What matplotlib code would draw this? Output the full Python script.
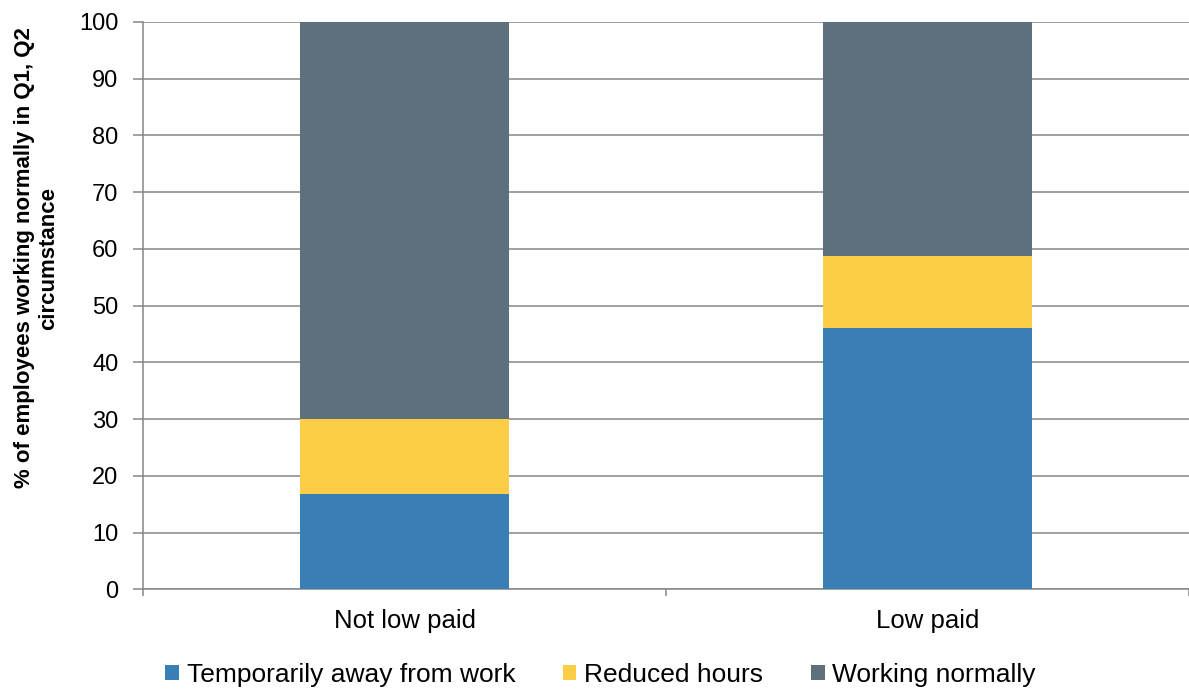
import matplotlib
matplotlib.use("Agg")
import matplotlib.pyplot as plt
import numpy as np

plt.rcParams['font.family'] = ['Liberation Sans', 'DejaVu Sans']

categories = ["Not low paid", "Low paid"]
series_names = ["Temporarily away from work", "Reduced hours", "Working normally"]
temporarily_away = [16.8, 46.1]
reduced_hours = [13.3, 12.6]
working_normally = [69.9, 41.3]
colors = ["#3A7FB3", "#FDCD48", "#5D707B"]
yticks = list(range(0, 101, 10))

fig = plt.figure(figsize=(11.89, 6.91), dpi=100)
ax = fig.add_axes([0.1203, 0.1469, 0.8797, 0.8215])

x = np.arange(len(categories))
bottom = np.zeros(len(categories))
for name, vals, c in zip(series_names, [temporarily_away, reduced_hours, working_normally], colors):
    ax.bar(x, vals, width=0.4, bottom=bottom, color=c, label=name, zorder=3)
    bottom += np.array(vals)

grid_c = "#868686"
lw = 1.1
ax.set_ylim(0, 100)
ax.set_xlim(-0.5, len(categories) - 0.5)
ax.set_yticks(yticks)
ax.yaxis.grid(True, color=grid_c, linewidth=lw, zorder=0)
ax.set_axisbelow(True)

# category labels centred, tick marks on category boundaries
ax.set_xticks(x)
ax.set_xticklabels(categories, fontsize=18.5)
ax.tick_params(axis='x', which='major', length=0, pad=14)
ax.set_xticks(np.arange(-0.5, len(categories), 1.0), minor=True)
ax.tick_params(axis='x', which='minor', length=5, width=lw, color=grid_c)
ax.tick_params(axis='y', length=7.2, width=lw, color=grid_c, labelsize=17, pad=10.5)

for s in ["top", "right"]:
    ax.spines[s].set_visible(False)
for s in ["left", "bottom"]:
    ax.spines[s].set_color(grid_c)
    ax.spines[s].set_linewidth(lw)

fig.text(37 / 1189, 1 - 258 / 691,
         "% of employees working normally in Q1, Q2\ncircumstance",
         rotation=90, ha="center", va="center", ma="center",
         fontsize=16, fontweight="bold", linespacing=1.2)

fig.legend(*ax.get_legend_handles_labels(), loc="center",
           bbox_to_anchor=(0.505, 1 - 675 / 691), ncol=3, frameon=False,
           fontsize=19, handlelength=0.52, handleheight=0.52, handletextpad=0.3,
           columnspacing=1.8, borderaxespad=0, borderpad=0)

fig.savefig("out.png", dpi=100)
